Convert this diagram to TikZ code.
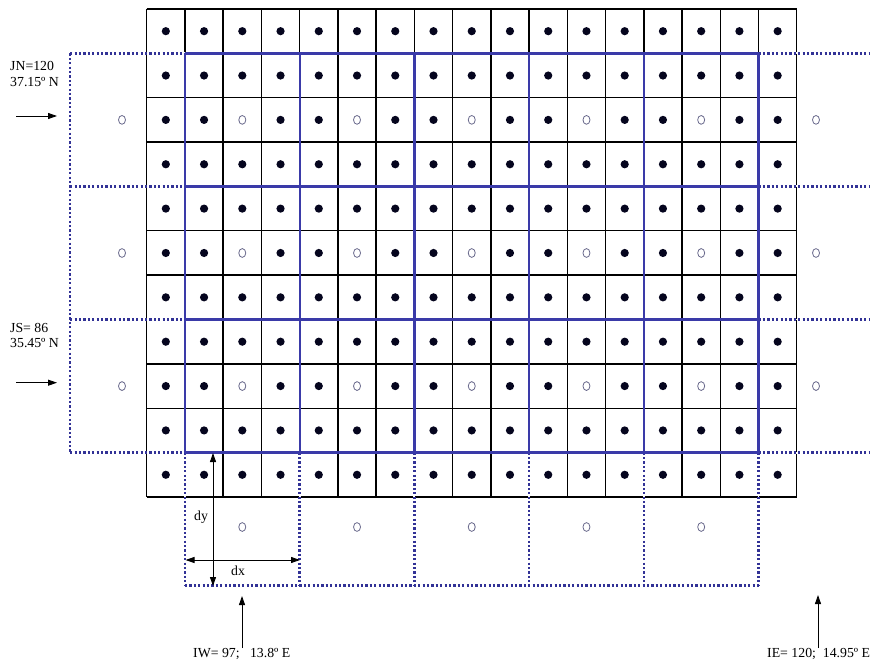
\documentclass[tikz,border=0pt]{standalone}
\usepackage{fontspec}
\setmainfont{Liberation Serif}
\usetikzlibrary{arrows.meta}
\definecolor{coarse}{RGB}{58,58,168}
\definecolor{dotc}{RGB}{50,50,150}
\definecolor{hollowc}{RGB}{105,105,140}
\definecolor{dotfill}{RGB}{5,5,30}
\begin{document}
\begin{tikzpicture}[x=1pt,y=-1pt,
  fine/.style={black,line width=1.4pt},
  coarseln/.style={coarse,line width=2.3pt},
  dotln/.style={dotc,line width=2.5pt,dash pattern=on 2.2pt off 2.2pt},
  whiteout/.style={white,line width=1.9pt},
  lbl/.style={font=\fontsize{13.8}{15.5}\selectfont,inner sep=0pt},
  arr/.style={black,line width=0.9pt,-{Triangle[length=9pt,width=6pt]}},
  darr/.style={black,line width=0.9pt,{Triangle[length=9pt,width=6pt]}-{Triangle[length=9pt,width=6pt]}},
  fdot/.style={dotfill},
  hdot/.style={hollowc,line width=0.8pt},
]
\useasboundingbox[fill=white] (0,0) rectangle (870,663);
\def\xo{146.7}\def\cw{38.24}\def\yo{9}\def\rh{44.36}
% fine grid
\foreach \i in {0,...,17} \draw[fine] ({\xo+\i*\cw},\yo) -- ({\xo+\i*\cw},{\yo+11*\rh});
\foreach \j in {0,...,11} \draw[fine] (\xo,{\yo+\j*\rh}) -- ({\xo+17*\cw},{\yo+\j*\rh});
% dots
\foreach \i in {0,...,16} {
  \foreach \j in {0,...,10} {
    \pgfmathtruncatemacro{\h}{and(mod(\i,3)==2,mod(\j,3)==2)}
    \ifnum\h=1
      \draw[hdot] ({\xo+(\i+0.5)*\cw},{\yo+(\j+0.5)*\rh}) ellipse [x radius=3.5, y radius=4.4];
    \else
      \fill[fdot] ({\xo+(\i+0.5)*\cw},{\yo+(\j+0.5)*\rh}) circle [radius=4.1];
    \fi
  }
}
% whiteout overlapping segments
\foreach \m in {0,...,3} {
  \draw[whiteout] (\xo,{\yo+(1+3*\m)*\rh}) -- ({\xo+\cw},{\yo+(1+3*\m)*\rh});
  \draw[whiteout] ({\xo+16*\cw},{\yo+(1+3*\m)*\rh}) -- ({\xo+17*\cw},{\yo+(1+3*\m)*\rh});
}
\foreach \k in {0,...,5}
  \draw[whiteout] ({\xo+(1+3*\k)*\cw},{\yo+10*\rh}) -- ({\xo+(1+3*\k)*\cw},{\yo+11*\rh});
% dotted outer coarse cells
\foreach \m in {0,...,3} {
  \draw[dotln] ({\xo-2*\cw},{\yo+(1+3*\m)*\rh}) -- ({\xo+\cw},{\yo+(1+3*\m)*\rh});
  \draw[dotln] ({\xo+16*\cw},{\yo+(1+3*\m)*\rh}) -- (870,{\yo+(1+3*\m)*\rh});
}
\draw[dotln] ({\xo-2*\cw},{\yo+\rh}) -- ({\xo-2*\cw},{\yo+10*\rh});
\foreach \k in {0,...,5}
  \draw[dotln] ({\xo+(1+3*\k)*\cw},{\yo+10*\rh}) -- ({\xo+(1+3*\k)*\cw},{\yo+13*\rh});
\draw[dotln] ({\xo+\cw},{\yo+13*\rh}) -- ({\xo+16*\cw},{\yo+13*\rh});
% coarse solid grid
\foreach \k in {0,...,5}
  \draw[coarseln] ({\xo+(1+3*\k)*\cw},{\yo+\rh}) -- ({\xo+(1+3*\k)*\cw},{\yo+10*\rh});
\foreach \m in {0,...,3}
  \draw[coarseln] ({\xo+\cw},{\yo+(1+3*\m)*\rh}) -- ({\xo+16*\cw},{\yo+(1+3*\m)*\rh});
% hollow centres of outer coarse cells
\foreach \j in {2,5,8} {
  \draw[hdot] (122,{\yo+(\j+0.5)*\rh}) ellipse [x radius=3.5, y radius=4.4];
  \draw[hdot] (816,{\yo+(\j+0.5)*\rh}) ellipse [x radius=3.5, y radius=4.4];
}
\foreach \i in {2,5,8,11,14}
  \draw[hdot] ({\xo+(\i+0.5)*\cw},527) ellipse [x radius=3.5, y radius=4.4];
% labels
\node[lbl,anchor=base west] (jn1) at (10,70.7) {JN=120};
\node[lbl,anchor=base west] (jn2) at (10,86.2) {37.15º N};
\node[lbl,anchor=base west] (js1) at (10,332.3) {JS= 86};
\node[lbl,anchor=base west] (js2) at (10,347.8) {35.45º N};
\node[lbl,anchor=base west] (iw) at (193,657.5) {IW= 97;\ \ \ 13.8º E};
\node[lbl,anchor=base west] (ie) at (767,657.5) {IE= 120;\ \ 14.95º E};
\node[lbl,anchor=base west] (dy) at (194,520) {dy};
\node[lbl,anchor=base west] (dx) at (231,575) {dx};
% arrows
\coordinate (jna) at (16,116); \coordinate (jnb) at (57,116);
\coordinate (jsa) at (16,382.7); \coordinate (jsb) at (57,382.7);
\coordinate (iwa) at (242,648); \coordinate (iwb) at (242,596);
\coordinate (iea) at (818,648); \coordinate (ieb) at (818,595);
\coordinate (dya) at (213,453); \coordinate (dyb) at (213,586);
\coordinate (dxa) at (185.5,560); \coordinate (dxb) at (300,560);
\draw[arr] (jna) -- (jnb);
\draw[arr] (jsa) -- (jsb);
\draw[arr] (iwa) -- (iwb);
\draw[arr] (iea) -- (ieb);
\draw[darr] (dya) -- (dyb);
\draw[darr] (dxa) -- (dxb);
\end{tikzpicture}
\end{document}
